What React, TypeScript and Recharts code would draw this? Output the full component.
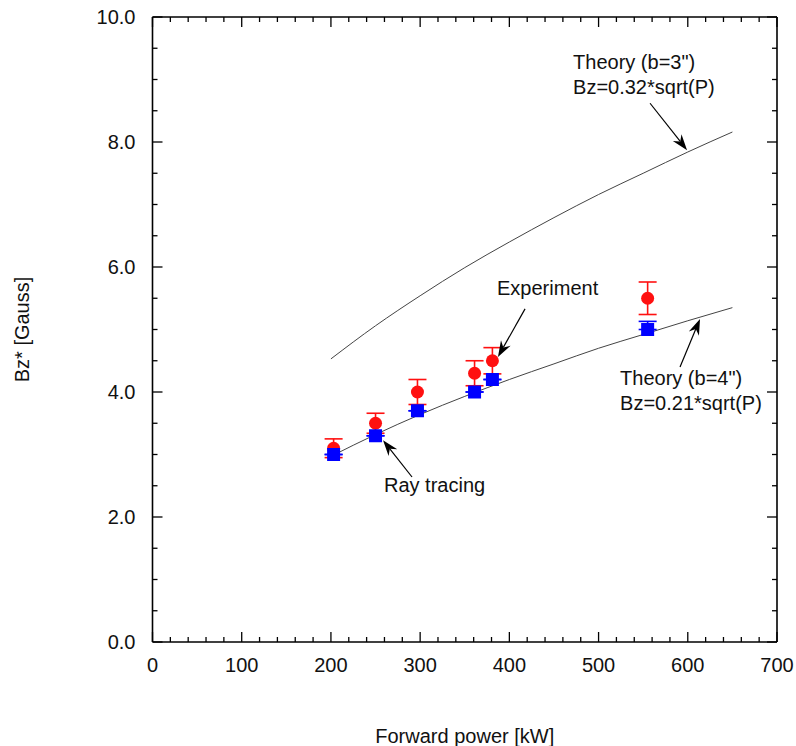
import {
  ComposedChart, Line, Scatter, XAxis, YAxis, ErrorBar, ReferenceLine, ReferenceDot,
} from 'recharts';

// theory curves, every 50 kW
const theoryPower = [200, 250, 300, 350, 400, 450, 500, 550, 600, 650];
const theoryB3 = [4.53, 5.06, 5.54, 5.99, 6.4, 6.79, 7.16, 7.5, 7.84, 8.16];
const theoryB4 = [2.97, 3.32, 3.64, 3.93, 4.2, 4.45, 4.7, 4.92, 5.14, 5.35];

// measured / simulated points
const measPower = [203, 250, 297, 361, 381, 555];
const experimentBz = [3.1, 3.5, 4.0, 4.3, 4.5, 5.5];
const experimentErr = [0.15, 0.16, 0.2, 0.2, 0.21, 0.26];
const rayTracingBz = [3.0, 3.3, 3.7, 4.0, 4.2, 5.0];
// only the upper half shows above the squares
const rayTracingErrUp = [0, 0, 0, 0, 0, 0.13];

const xTicks = Array.from({ length: 36 }, (_, i) => i * 20);
const yTicks = Array.from({ length: 21 }, (_, i) => i * 0.5);

const W = 796;
const H = 746;
const LEFT = 152.5;
const TOP = 17;
const RIGHT = 19;
const BOTTOM = 104;
const FONT = 'Liberation Sans, Arial, Helvetica, sans-serif';

const theoryB3Data = theoryPower.map((p, i) => ({ p, bz: theoryB3[i] }));
const theoryB4Data = theoryPower.map((p, i) => ({ p, bz: theoryB4[i] }));
const experimentData = measPower.map((p, i) => ({ p, bz: experimentBz[i], err: experimentErr[i] }));
const rayData = measPower.map((p, i) => ({ p, bz: rayTracingBz[i], err: [0, rayTracingErrUp[i]] }));

interface Note {
  lines: string[];
  at: [number, number];
  from: [number, number];
  to: [number, number];
}

const notes: Note[] = [
  { lines: ['Theory (b=3")', 'Bz=0.32*sqrt(P)'], at: [471.4, 9.28], from: [557.7, 8.62], to: [599.2, 7.87] },
  { lines: ['Experiment'], at: [386.2, 5.66], from: [417.6, 5.33], to: [387.2, 4.56] },
  { lines: ['Theory (b=4")', 'Bz=0.21*sqrt(P)'], at: [524.1, 4.22], from: [591.3, 4.4], to: [613.7, 5.17] },
  { lines: ['Ray tracing'], at: [259.5, 2.51], from: [290.9, 2.64], to: [258.4, 3.23] },
];

const isMajorX = (v: number) => v % 100 === 0;
const isMajorY = (v: number) => Math.abs(v % 2) < 1e-9;

// bottom ticks also mirror onto the top frame edge
function BottomTick({ x, y, payload }: any) {
  const major = isMajorX(payload.value);
  const len = major ? 10 : 5;
  return (
    <g>
      <line x1={x} x2={x} y1={y} y2={y - len} stroke="#000" strokeWidth={1.3} />
      <line x1={x} x2={x} y1={TOP} y2={TOP + len} stroke="#000" strokeWidth={1.3} />
      {major && (
        <text x={x} y={y + 30} textAnchor="middle" fontSize={20} fontFamily={FONT} fill="#111">
          {payload.value}
        </text>
      )}
    </g>
  );
}

// left ticks also mirror onto the right frame edge
function LeftTick({ x, y, payload }: any) {
  const major = isMajorY(payload.value);
  const len = major ? 10 : 5;
  const rx = W - RIGHT;
  return (
    <g>
      <line x1={x} x2={x + len} y1={y} y2={y} stroke="#000" strokeWidth={1.3} />
      <line x1={rx} x2={rx - len} y1={y} y2={y} stroke="#000" strokeWidth={1.3} />
      {major && (
        <text x={x - 17} y={y} dy="0.35em" textAnchor="end" fontSize={20} fontFamily={FONT} fill="#111">
          {payload.value.toFixed(1)}
        </text>
      )}
    </g>
  );
}

function Arrow({ x1, y1, x2, y2 }: any) {
  const ang = Math.atan2(y2 - y1, x2 - x1);
  const len = 16;
  const half = 5.5;
  const notch = 11;
  const bx = x2 - len * Math.cos(ang);
  const by = y2 - len * Math.sin(ang);
  const nx = x2 - notch * Math.cos(ang);
  const ny = y2 - notch * Math.sin(ang);
  const px = -Math.sin(ang) * half;
  const py = Math.cos(ang) * half;
  return (
    <g>
      <line x1={x1} y1={y1} x2={nx} y2={ny} stroke="#000" strokeWidth={1.2} />
      <polygon
        points={`${x2},${y2} ${bx + px},${by + py} ${nx},${ny} ${bx - px},${by - py}`}
        fill="#000"
      />
    </g>
  );
}

function Square({ cx, cy }: any) {
  return <rect x={cx - 6.5} y={cy - 6.5} width={13} height={13} fill="#0000ff" />;
}

function Circle({ cx, cy }: any) {
  return <circle cx={cx} cy={cy} r={6.5} fill="#ff1010" />;
}

export default function App() {
  const plotW = W - LEFT - RIGHT;
  const plotH = H - TOP - BOTTOM;
  return (
    <div style={{ position: 'absolute', left: 0, top: 0 }}>
      <ComposedChart width={W} height={H} margin={{ top: TOP - 1, right: RIGHT - 1, bottom: 0, left: 0 }}>
        <XAxis
          type="number"
          dataKey="p"
          domain={[0, 700]}
          ticks={xTicks}
          interval={0}
          allowDataOverflow
          height={BOTTOM}
          tickLine={false}
          tickSize={0}
          tickMargin={0}
          tick={<BottomTick />}
          axisLine={{ stroke: '#000', strokeWidth: 1.6 }}
          label={{
            content: () => (
              <text x={LEFT + plotW / 2} y={H - 3} textAnchor="middle" fontSize={20} fontFamily={FONT} fill="#111">
                Forward power [kW]
              </text>
            ),
          }}
        />
        <XAxis
          xAxisId="top"
          orientation="top"
          type="number"
          domain={[0, 700]}
          height={1}
          tick={false}
          tickLine={false}
          axisLine={{ stroke: '#000', strokeWidth: 1.6 }}
        />
        <YAxis
          type="number"
          domain={[0, 10]}
          ticks={yTicks}
          interval={0}
          allowDataOverflow
          width={LEFT}
          tickLine={false}
          tickSize={0}
          tickMargin={0}
          tick={<LeftTick />}
          axisLine={{ stroke: '#000', strokeWidth: 1.6 }}
          label={{
            content: () => (
              <text
                x={22}
                y={TOP + plotH / 2}
                dy="0.35em"
                textAnchor="middle"
                fontSize={20}
                fontFamily={FONT}
                fill="#111"
                transform={`rotate(-90 22 ${TOP + plotH / 2})`}
              >
                Bz* [Gauss]
              </text>
            ),
          }}
        />
        <YAxis
          yAxisId="right"
          orientation="right"
          type="number"
          domain={[0, 10]}
          width={1}
          tick={false}
          tickLine={false}
          axisLine={{ stroke: '#000', strokeWidth: 1.6 }}
        />

        <Line data={theoryB3Data} dataKey="bz" type="monotone" stroke="#444" strokeWidth={1} dot={false} isAnimationActive={false} />
        <Line data={theoryB4Data} dataKey="bz" type="monotone" stroke="#444" strokeWidth={1} dot={false} isAnimationActive={false} />

        <Scatter data={experimentData} dataKey="bz" shape={<Circle />} isAnimationActive={false}>
          <ErrorBar dataKey="err" direction="y" width={9} stroke="#ff1010" strokeWidth={1.6} />
        </Scatter>
        <Scatter data={rayData} dataKey="bz" shape={<Square />} isAnimationActive={false}>
          <ErrorBar dataKey="err" direction="y" width={9} stroke="#0000ff" strokeWidth={1.6} />
        </Scatter>

        {notes.map((n, i) => (
          <ReferenceLine
            key={`arrow-${i}`}
            segment={[{ x: n.from[0], y: n.from[1] }, { x: n.to[0], y: n.to[1] }]}
            shape={<Arrow />}
          />
        ))}
        {notes.map((n, i) => (
          <ReferenceDot
            key={`note-${i}`}
            x={n.at[0]}
            y={n.at[1]}
            r={0}
            shape={(p: any) => (
              <text x={p.cx} y={p.cy} fontSize={20} fontFamily={FONT} fill="#111">
                {n.lines.map((t, j) => (
                  <tspan key={j} x={p.cx} y={p.cy + j * 25} dy="0.35em">
                    {t}
                  </tspan>
                ))}
              </text>
            )}
          />
        ))}
      </ComposedChart>
    </div>
  );
}
